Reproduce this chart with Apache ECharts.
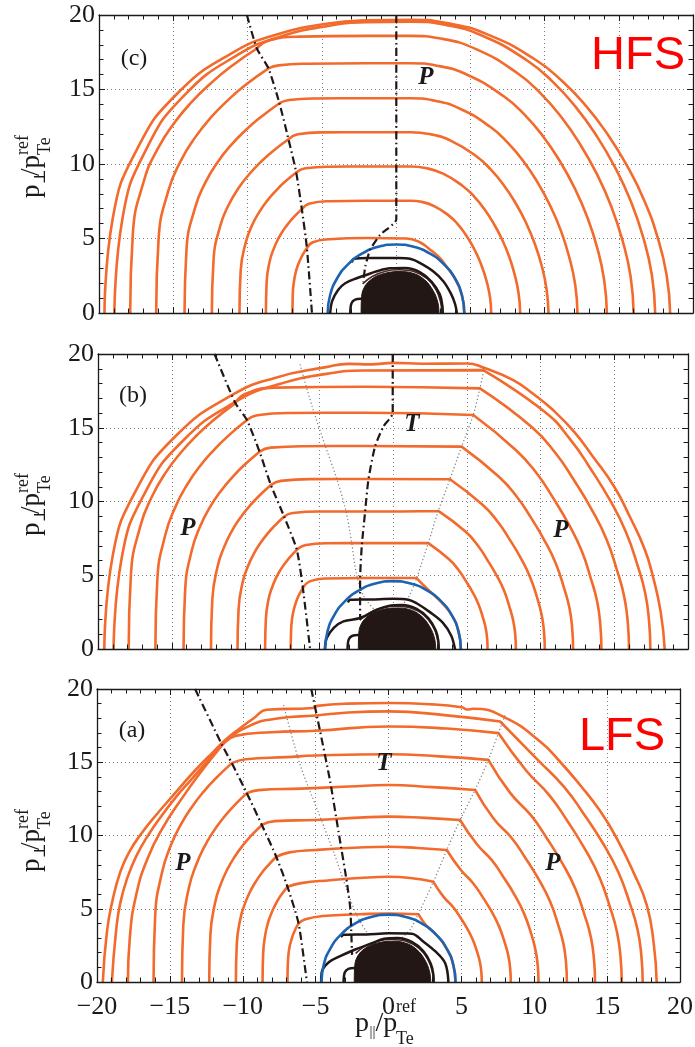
<!DOCTYPE html>
<html>
<head>
<meta charset="utf-8">
<title>Momentum-space contours, HFS / LFS</title>
<script src="https://cdn.jsdelivr.net/npm/echarts@6/dist/echarts.min.js"></script>
<style>
  html, body { margin: 0; padding: 0; background: #fff; }
  #chart { width: 695px; height: 1047px; }
</style>
</head>
<body>
<div id="chart"></div>
<script>
// ---------------------------------------------------------------------------
// Tick labels
const xTickLabels = ['\u221220', '\u221215', '\u221210', '\u22125', '0', '5', '10', '15', '20'];
const yTickLabels = ['0', '5', '10', '15', '20'];

// ---------------------------------------------------------------------------
// Panel (c), HFS: orange distribution contours, inner to outer.
// Each contour is a list of segments [p_par, p_perp]; segments meet at kinks.
const hfsContours = [
  [[[-6.97,0],[-6.95,1.31],[-6.86,2.18],[-6.76,2.7],[-6.63,3.14],[-6.49,3.49],[-6.35,3.79],[-6.2,4.05],[-6.0,4.36]],
   [[-6.0,4.36],[-5.6,4.75],[-4.5,4.95],[-2,5.03],[0.7,5.0],[1.6,4.75],[2.3,4.25],[2.9,3.75],[3.45,3.05],[3.98,2.3],[4.44,1.19],[4.6,0]]],
  [[[-8.76,0],[-8.71,2.09],[-8.5,3.49],[-8.23,4.32],[-7.91,5.02],[-7.57,5.58],[-7.21,6.06],[-6.84,6.48],[-6.34,6.97]],
   [[-6.34,6.97],[-5.8,7.35],[-4.5,7.5],[-2,7.53],[1.0,7.53],[1.72,7.46],[2.6,7.16],[3.58,6.52],[4.15,5.97],[4.65,5.32],[5.11,4.58],[5.52,3.77],[5.87,2.88],[6.15,1.95],[6.34,0.98],[6.41,0]]],
  [[[-10.54,0],[-10.46,2.83],[-10.12,4.72],[-9.71,5.85],[-9.2,6.79],[-8.67,7.54],[-8.09,8.2],[-7.52,8.77],[-6.72,9.43]],
   [[-6.72,9.43],[-6.1,9.72],[-4.5,9.82],[-2,9.83],[1.0,9.83],[1.98,9.73],[3.17,9.35],[4.51,8.51],[5.28,7.8],[5.97,6.95],[6.59,5.98],[7.15,4.92],[7.63,3.76],[8.0,2.54],[8.26,1.28],[8.36,0]]],
  [[[-12.4,0],[-12.29,3.5],[-11.84,5.83],[-11.28,7.23],[-10.59,8.4],[-9.87,9.33],[-9.1,10.14],[-8.32,10.84],[-7.24,11.66]],
   [[-7.24,11.66],[-6.6,12.0],[-5,12.12],[-2,12.13],[1.0,12.13],[2.24,12.01],[3.74,11.54],[5.43,10.5],[6.39,9.62],[7.26,8.58],[8.05,7.38],[8.75,6.07],[9.35,4.64],[9.82,3.14],[10.14,1.58],[10.27,0]]],
  [[[-14.24,0],[-14.11,4.22],[-13.54,7.04],[-12.85,8.73],[-12.0,10.14],[-11.11,11.26],[-10.15,12.25],[-9.18,13.09],[-7.85,14.08]],
   [[-7.85,14.08],[-7.2,14.3],[-5.5,14.4],[-2,14.41],[1.0,14.41],[2.5,14.27],[4.31,13.71],[6.36,12.48],[7.52,11.43],[8.58,10.19],[9.53,8.77],[10.38,7.21],[11.11,5.51],[11.67,3.73],[12.07,1.88],[12.22,0]]],
  [[[-16.15,0],[-15.99,4.93],[-15.33,8.21],[-14.51,10.18],[-13.5,11.82],[-12.45,13.14],[-11.31,14.29],[-10.18,15.27],[-8.59,16.42]],
   [[-8.59,16.42],[-7.9,16.62],[-6,16.73],[-2,16.76],[1.0,16.76],[2.76,16.6],[4.9,15.94],[7.3,14.51],[8.67,13.3],[9.91,11.85],[11.03,10.2],[12.03,8.38],[12.89,6.41],[13.56,4.34],[14.02,2.19],[14.2,0]]],
  [[[-17.9,0],[-17.72,5.33],[-16.97,8.88],[-16.05,11.01],[-14.91,12.78],[-13.72,14.2],[-12.44,15.44],[-11.16,16.51],[-9.37,17.75]],
   [[-9.37,17.75],[-8.5,18.3],[-6.5,18.55],[-2,18.6],[1.0,18.6],[3.0,18.42],[5.43,17.69],[8.16,16.11],[9.72,14.76],[11.13,13.15],[12.4,11.32],[13.54,9.3],[14.51,7.12],[15.27,4.81],[15.8,2.43],[16.0,0]]],
  [[[-18.96,0],[-18.42,6.34],[-16.82,10.98],[-14.21,14.65],[-10.64,17.34],[-7.76,18.56],[-4.41,19.3],[-2,19.52],[1.0,19.55],[3.19,19.36],[5.85,18.59],[8.85,16.93],[10.56,15.51],[12.11,13.82],[13.5,11.9],[14.75,9.78],[15.82,7.48],[16.65,5.06],[17.23,2.55],[17.45,0]]],
  [[[-19.63,0],[-19.07,6.38],[-17.41,11.05],[-14.71,14.75],[-11.02,17.46],[-8.03,18.69],[-4.56,19.43],[-2,19.64],[1.0,19.68],[3.33,19.47],[6.15,18.7],[9.34,17.03],[11.15,15.6],[12.79,13.9],[14.27,11.97],[15.59,9.83],[16.73,7.52],[17.61,5.09],[18.22,2.57],[18.46,0]]]
];
const hfsDashOuter = [[-10.04,20],[-9.37,17.75],[-8.59,16.42],[-7.85,14.08],[-7.24,11.66],[-6.72,9.43],[-6.34,6.97],[-6.0,4.36],[-5.66,0]];
const hfsDashInner = [[0.02,20],[0.02,6.3],[-1.07,5.24],[-1.74,4.24],[-2.07,3.12],[-2.2,2.1]];
const hfsCap   = [[-2.95,3.45],[-2.86,3.62],[-1.85,3.69],[0.17,3.69],[1.0,3.62],[1.63,3.35],[2.5,2.8],[3.2,2.12],[3.7,1.3],[3.98,0.6],[4.1,0]];
const hfsLower = [[-4.43,0],[-4.3,0.8],[-3.9,1.55],[-3.42,2.0],[-2.6,2.35],[-1.96,2.57],[-1.29,2.8],[-0.4,3.0],[0.6,3.02],[1.6,2.75],[2.4,2.1],[2.95,1.25],[3.12,0.5],[3.15,0]];

// ---------------------------------------------------------------------------
// Panel (b)
const midContours = [
  [[[-6.93,0],[-6.91,1.24],[-6.84,2.07],[-6.75,2.56],[-6.64,2.97],[-6.53,3.3],[-6.41,3.59],[-6.28,3.84],[-6.11,4.13]],
   [[-6.11,4.13],[-5.6,4.6],[-4.5,4.78],[-2,4.81],[1.6,4.81]],
   [[1.6,4.81],[2.4,4.0],[3.2,3.25],[3.98,2.3],[4.44,1.19],[4.6,0]]],
  [[[-8.67,0],[-8.62,2.02],[-8.44,3.36],[-8.2,4.17],[-7.92,4.84],[-7.62,5.38],[-7.29,5.85],[-6.97,6.25],[-6.52,6.72]],
   [[-6.52,6.72],[-5.9,7.05],[-4.5,7.17],[-2,7.18],[2.39,7.18]],
   [[2.39,7.18],[3.78,6.1],[4.42,5.39],[4.9,4.67],[5.42,3.81],[5.8,3.02],[6.09,2.15],[6.28,1.44],[6.38,0.72],[6.41,0]]],
  [[[-10.54,0],[-10.47,2.69],[-10.2,4.49],[-9.85,5.57],[-9.43,6.47],[-8.99,7.18],[-8.52,7.81],[-8.03,8.35],[-7.38,8.98]],
   [[-7.38,8.98],[-6.8,9.22],[-5,9.32],[-2,9.32],[3.07,9.36]],
   [[3.07,9.36],[4.91,7.96],[5.75,7.02],[6.37,6.08],[7.04,4.96],[7.54,3.93],[7.91,2.81],[8.16,1.87],[8.29,0.94],[8.33,0]]],
  [[[-12.34,0],[-12.25,3.34],[-11.9,5.56],[-11.46,6.89],[-10.92,8.01],[-10.35,8.9],[-9.74,9.67],[-9.12,10.34],[-8.28,11.12]],
   [[-8.28,11.12],[-7.6,11.4],[-5.5,11.52],[-2,11.53],[3.86,11.51]],
   [[3.86,11.51],[6.07,9.78],[7.1,8.63],[7.87,7.48],[8.7,6.1],[9.31,4.83],[9.78,3.45],[10.08,2.3],[10.24,1.15],[10.29,0]]],
  [[[-14.2,0],[-14.09,4.01],[-13.64,6.69],[-13.08,8.3],[-12.4,9.63],[-11.68,10.7],[-10.9,11.64],[-10.12,12.44],[-9.05,13.38]],
   [[-9.05,13.38],[-8.3,13.65],[-6,13.75],[-2,13.76],[4.65,13.72]],
   [[4.65,13.72],[7.2,11.66],[8.42,10.29],[9.34,8.92],[10.32,7.27],[11.05,5.76],[11.6,4.12],[11.97,2.74],[12.15,1.37],[12.21,0]]],
  [[[-16.11,0],[-15.98,4.66],[-15.43,7.76],[-14.76,9.62],[-13.94,11.17],[-13.07,12.42],[-12.13,13.5],[-11.19,14.43],[-9.9,15.52]],
   [[-9.9,15.52],[-9.2,15.85],[-7,16.0],[-2,16.02],[5.44,15.86]],
   [[5.44,15.86],[8.34,13.48],[9.75,11.9],[10.81,10.31],[11.94,8.41],[12.79,6.66],[13.42,4.76],[13.85,3.17],[14.06,1.59],[14.13,0]]],
  [[[-17.92,0],[-17.77,5.0],[-17.13,8.33],[-16.35,10.32],[-15.39,11.99],[-14.38,13.32],[-13.3,14.49],[-12.22,15.48],[-10.7,16.65]],
   [[-10.7,16.65],[-10.0,17.3],[-8,17.72],[-2,17.78],[5.89,17.67]],
   [[5.89,17.67],[9.44,15.02],[11.04,13.25],[12.24,11.49],[13.52,9.37],[14.48,7.42],[15.2,5.3],[15.68,3.53],[15.92,1.77],[16.0,0]]],
  [[[-18.94,0],[-18.4,6.13],[-16.8,10.62],[-14.19,14.17],[-10.63,16.78],[-7.75,17.95],[-4.4,18.67],[-2,18.88],[6.11,18.91]],
   [[6.11,18.91],[10.3,16.07],[12.04,14.18],[13.35,12.29],[14.75,10.02],[15.79,7.94],[16.58,5.67],[17.1,3.78],[17.36,1.89],[17.45,0]]],
  [[[-19.57,0],[-19.01,6.28],[-17.36,10.87],[-14.66,14.51],[-10.99,17.17],[-8.01,18.38],[-4.55,19.11],[-3,19.33],[-1.5,19.3],[0,19.4],[2,19.34],[5.0,19.36],[6.2,19.05],[8.15,18.23],[9.5,17.3],[10.85,16.2],[12.3,14.7],[13.56,13.04],[15.0,11.0],[16.05,8.98],[17.05,6.8],[17.62,4.92],[18.15,2.5],[18.42,0]]]
];
const midDashOuter = [[-12.1,20],[-10.7,16.7],[-9.9,15.52],[-9.05,13.38],[-8.28,11.12],[-7.38,8.98],[-6.52,6.72],[-6.11,4.13],[-5.62,0]];
const midDashInner = [[-0.02,20],[-0.02,16.0],[-0.66,15.07],[-1.22,13.72],[-1.67,11.46],[-1.9,9.21],[-2.12,6.95],[-2.23,4.69],[-2.23,1.98]];
const midDotLeft   = [[-6.3,19.3],[-5.5,16.5],[-4.6,13.8],[-3.8,11.5],[-3.2,9.4],[-2.8,7.2],[-2.5,5.2],[-2.0,3.6],[-1.3,2.7]];
const midDotRight  = [[6.2,19.1],[5.89,17.67],[5.44,15.86],[4.65,13.72],[3.86,11.51],[3.07,9.36],[2.39,7.18],[1.6,4.81],[1.1,3.6],[0.6,2.95]];
const midCap   = [[-3.03,3.22],[-2.9,3.34],[-1.5,3.36],[0,3.4],[1.04,3.34],[1.6,3.1],[2.5,2.5],[3.4,1.76],[3.95,0.9],[4.2,0]];
const midLower = [[-4.62,0],[-4.49,0.74],[-4.0,1.45],[-3.36,1.87],[-2.23,2.1],[-1.1,2.66],[-0.3,2.92],[0.6,2.98],[1.6,2.72],[2.4,2.08],[2.9,1.25],[3.08,0.5],[3.1,0]];

// ---------------------------------------------------------------------------
// Panel (a), LFS
const lfsContours = [
  [[[-6.93,0],[-6.91,1.2],[-6.85,2.0],[-6.77,2.48],[-6.66,2.88],[-6.56,3.2],[-6.44,3.48],[-6.33,3.72],[-6.17,4.0]],
   [[-6.17,4.0],[-5.7,4.28],[-4.5,4.5],[-2,4.62],[0,4.68],[2.06,4.62]],
   [[2.06,4.62],[2.6,3.85],[3.25,3.25],[3.98,2.3],[4.44,1.19],[4.6,0]]],
  [[[-8.64,0],[-8.6,1.95],[-8.45,3.25],[-8.27,4.03],[-8.04,4.68],[-7.8,5.2],[-7.55,5.66],[-7.28,6.05],[-6.93,6.5]],
   [[-6.93,6.5],[-6,6.75],[-4,6.95],[-2,7.1],[0,7.18],[1.5,7.1],[3.08,6.84]],
   [[3.08,6.84],[3.78,5.81],[4.42,5.13],[4.9,4.45],[5.41,3.63],[5.79,2.87],[6.08,2.05],[6.27,1.37],[6.37,0.68],[6.4,0]]],
  [[[-10.47,0],[-10.41,2.57],[-10.17,4.28],[-9.87,5.3],[-9.5,6.16],[-9.11,6.84],[-8.7,7.44],[-8.27,7.95],[-7.7,8.55]],
   [[-7.7,8.55],[-6.8,8.85],[-5,9.01],[-2,9.18],[0,9.23],[2,9.15],[4.0,9.01]],
   [[4.0,9.01],[4.95,7.66],[5.79,6.76],[6.42,5.86],[7.09,4.78],[7.59,3.78],[7.97,2.7],[8.22,1.8],[8.35,0.9],[8.39,0]]],
  [[[-12.3,0],[-12.22,3.22],[-11.91,5.36],[-11.52,6.65],[-11.04,7.72],[-10.53,8.58],[-9.99,9.33],[-9.44,9.97],[-8.69,10.72]],
   [[-8.69,10.72],[-7.8,10.98],[-5,11.06],[-2,11.22],[0,11.29],[2.5,11.2],[4.91,11.06]],
   [[4.91,11.06],[6.07,9.4],[7.1,8.3],[7.87,7.19],[8.7,5.86],[9.31,4.65],[9.78,3.32],[10.08,2.21],[10.24,1.11],[10.29,0]]],
  [[[-14.17,0],[-14.08,3.87],[-13.69,6.45],[-13.2,7.99],[-12.61,9.28],[-11.99,10.31],[-11.32,11.21],[-10.64,11.99],[-9.72,12.89]],
   [[-9.72,12.89],[-8.9,13.1],[-6,13.2],[-2.75,13.34],[0,13.45],[3,13.3],[5.94,13.11]],
   [[5.94,13.11],[7.22,11.14],[8.45,9.83],[9.36,8.52],[10.34,6.95],[11.08,5.51],[11.63,3.93],[12.0,2.62],[12.18,1.31],[12.24,0]]],
  [[[-16.12,0],[-16.01,4.48],[-15.54,7.47],[-14.96,9.26],[-14.24,10.76],[-13.49,11.95],[-12.68,13.0],[-11.86,13.89],[-10.75,14.94]],
   [[-10.75,14.94],[-9.8,15.2],[-7,15.35],[-5,15.46],[0,15.55],[3.5,15.4],[6.85,15.16]],
   [[6.85,15.16],[8.36,12.89],[9.78,11.37],[10.84,9.85],[11.97,8.03],[12.82,6.37],[13.46,4.55],[13.89,3.03],[14.1,1.52],[14.17,0]]],
  [[[-17.88,0],[-17.75,3],[-17.3,6],[-16.5,8.5],[-15.5,10.5],[-14.2,12.5],[-12.9,14.3],[-11.43,16.15]],
   [[-11.43,16.15],[-10.5,16.8],[-8,17.05],[-5,17.15],[0,17.44],[4,17.3],[7.54,16.99]],
   [[7.54,16.99],[9.44,14.44],[11.04,12.74],[12.24,11.04],[13.52,9.0],[14.48,7.14],[15.2,5.1],[15.68,3.4],[15.92,1.7],[16.0,0]]],
  [[[-18.98,0],[-18.7,3.4],[-18.4,5.4],[-17.85,7.3],[-17.25,8.7],[-16.5,10.0],[-15.6,11.3],[-14.6,12.6],[-13.55,13.8],[-12.5,15.0],[-11.43,16.2],[-9.5,17.5],[-7.5,18.0],[-5,18.19],[-2.75,18.4],[0,18.47],[4,18.2],[7.66,17.78]],
   [[7.66,17.78],[10.29,15.11],[12.03,13.34],[13.34,11.56],[14.74,9.42],[15.78,7.47],[16.57,5.33],[17.09,3.56],[17.35,1.78],[17.44,0]]],
  [[[-19.6,0],[-19.32,3.42],[-18.95,5.5],[-18.4,7.52],[-17.8,8.85],[-17.03,10.03],[-15.9,11.45],[-14.75,12.77],[-13.4,14.3],[-12.0,15.73],[-11.1,16.6],[-10.17,17.33],[-9.25,18.0],[-8.34,18.58],[-5.2,18.7],[-4.9,18.85],[-2.75,19.0],[0,19.04],[3,18.95],[5.03,18.75],[5.4,18.6],[5.8,18.65],[8.0,18.05],[10.4,16.42],[11.8,15.0],[13.14,13.45],[14.5,11.7],[15.66,9.81],[16.8,7.5],[17.72,5.25],[18.2,2.6],[18.4,0]]]
];
const lfsDashOuter = [[-13.27,20],[-11.43,16.2],[-10.75,14.94],[-9.72,12.89],[-8.69,10.72],[-7.7,8.55],[-6.93,6.5],[-6.17,4.0],[-5.6,0]];
const lfsDashInner = [[-5.3,20],[-4.69,17.1],[-4.0,13.68],[-3.43,10.26],[-2.86,6.84],[-2.62,5.0],[-2.55,3.3],[-2.5,1.85]];
const lfsDotLeft   = [[-7.2,18.9],[-6.06,14.82],[-4.9,11.8],[-3.77,8.89],[-2.9,6.4],[-2.2,4.6],[-1.5,3.4]];
const lfsDotRight  = [[8.0,18.2],[7.54,16.99],[6.85,15.16],[5.94,13.11],[4.91,11.06],[4.0,9.01],[3.08,6.84],[2.06,4.68],[1.5,3.6],[0.9,3.0]];
const lfsCap   = [[-3.2,3.12],[-3.1,3.22],[-1.5,3.25],[0,3.32],[1.6,3.3],[2.4,2.75],[3.2,2.1],[3.89,1.28],[4.11,0]];
const lfsLower = [[-4.62,0],[-4.57,0.71],[-4.1,1.35],[-3.43,1.71],[-2.29,2.22],[-1.14,2.65],[-0.3,2.95],[0.6,3.0],[1.6,2.74],[2.4,2.1],[2.9,1.25],[3.08,0.5],[3.1,0]];

// ---------------------------------------------------------------------------
// Shared by all panels: blue boundary circle and the dense core
const boundaryCircle = [[-4.6,0],[-4.44,1.19],[-3.98,2.3],[-3.25,3.25],[-2.3,3.98],[-1.19,4.44],[0,4.6],[1.19,4.44],[2.3,3.98],[3.25,3.25],[3.98,2.3],[4.44,1.19],[4.6,0]];
const coreDisk = [[-2.35,0],[-2.33,0.9],[-2.15,1.7],[-1.6,2.3],[-0.8,2.65],[0.2,2.78],[1.1,2.68],[1.9,2.25],[2.5,1.5],[2.82,0.7],[2.9,0]];
const coreRing = [[-2.25,1.95],[-1.6,2.45],[-0.7,2.8],[0.2,2.9],[1.2,2.78],[2.1,2.3],[2.7,1.55],[3.0,0.75],[3.08,0]];
const coreHook = [[-3.08,0],[-3.0,0.65],[-2.75,0.9],[-2.35,0.95]];

// ---------------------------------------------------------------------------
const ORANGE = '#F26A2C';
const BLUE = '#1C63B2';
const INK = '#221714';
const SERIF = '"Liberation Serif", "Times New Roman", "DejaVu Serif", serif';

const panels = [
  { grid: { left: 99, top: 15, width: 594, height: 298 },
    contours: hfsContours, dashes: [hfsDashOuter, hfsDashInner], dots: [],
    cap: hfsCap, lower: hfsLower, xLabels: false },
  { grid: { left: 98, top: 354, width: 590, height: 295 },
    contours: midContours, dashes: [midDashOuter, midDashInner], dots: [midDotLeft, midDotRight],
    cap: midCap, lower: midLower, xLabels: false },
  { grid: { left: 97, top: 689, width: 583, height: 293 },
    contours: lfsContours, dashes: [lfsDashOuter, lfsDashInner], dots: [lfsDotLeft, lfsDotRight],
    cap: lfsCap, lower: lfsLower, xLabels: true }
];

function joinSegments(segs) {
  const out = [];
  segs.forEach((s, i) => { if (i) out.push(null); s.forEach(p => out.push(p)); });
  return out;
}

const frameLine = { show: true, onZero: false, lineStyle: { color: '#1a1a1a', width: 1.3 } };
const tickStyle = { show: true, inside: true, length: 6, lineStyle: { color: '#1a1a1a', width: 1 } };
const minorStyle = { show: true, splitNumber: 5, length: 4.5, lineStyle: { color: '#1a1a1a', width: 1 } };
const gridDots = { show: true, lineStyle: { type: [1, 3], color: '#7d7d7d', width: 1 } };

const grids = [], xAxes = [], yAxes = [], series = [];

panels.forEach((p, gi) => {
  grids.push(Object.assign({ containLabel: false, outerBoundsMode: 'none' }, p.grid));
  // bottom axis: frame, ticks, labels (drawn above the curves)
  xAxes.push({
    type: 'value', gridIndex: gi, position: 'bottom', min: -20, max: 20, interval: 5, z: 10,
    axisLine: frameLine, axisTick: tickStyle, minorTick: minorStyle,
    splitLine: { show: false },
    axisLabel: {
      show: p.xLabels, margin: 12, color: '#1a1a1a', fontFamily: SERIF, fontSize: 26,
      formatter: v => xTickLabels[Math.round((v + 20) / 5)]
    }
  });
  // top axis: frame, ticks and the dotted grid
  xAxes.push({
    type: 'value', gridIndex: gi, position: 'top', min: -20, max: 20, interval: 5, z: 0,
    axisLine: frameLine, axisTick: tickStyle, minorTick: minorStyle,
    splitLine: gridDots, axisLabel: { show: false }
  });
  yAxes.push({
    type: 'value', gridIndex: gi, position: 'left', min: 0, max: 20, interval: 5, z: 10,
    axisLine: frameLine, axisTick: tickStyle, minorTick: minorStyle,
    splitLine: { show: false },
    axisLabel: {
      show: true, margin: 4, color: '#1a1a1a', fontFamily: SERIF, fontSize: 26,
      formatter: v => yTickLabels[Math.round(v / 5)]
    }
  });
  yAxes.push({
    type: 'value', gridIndex: gi, position: 'right', min: 0, max: 20, interval: 5, z: 0,
    axisLine: frameLine, axisTick: tickStyle, minorTick: minorStyle,
    splitLine: gridDots, axisLabel: { show: false }
  });

  const base = {
    type: 'line', xAxisIndex: 2 * gi, yAxisIndex: 2 * gi, showSymbol: false, symbol: 'none',
    silent: true, animation: false, connectNulls: false, clip: true
  };

  p.contours.forEach(c => {
    series.push(Object.assign({}, base, {
      data: joinSegments(c), smooth: 0.5, z: 2,
      lineStyle: { color: ORANGE, width: 2.6, cap: 'round', join: 'round' }
    }));
  });
  p.dots.forEach(d => {
    series.push(Object.assign({}, base, {
      data: d, smooth: 0.3, z: 3,
      lineStyle: { color: '#7a7a7a', width: 1.2, type: [1.2, 2.4] }
    }));
  });
  // dense core: filled disk with its rim
  series.push(Object.assign({}, base, {
    data: coreDisk, smooth: 0.4, z: 3,
    lineStyle: { color: INK, width: 1 }, areaStyle: { color: INK, opacity: 1, origin: 'auto' }
  }));
  series.push(Object.assign({}, base, {
    data: coreRing, smooth: 0.4, z: 3, lineStyle: { color: '#4a2a22', width: 1.6 }
  }));
  [coreHook, p.lower, p.cap].forEach(d => {
    series.push(Object.assign({}, base, {
      data: d, smooth: 0.35, z: 4, lineStyle: { color: INK, width: 2.5, cap: 'round', join: 'round' }
    }));
  });
  series.push(Object.assign({}, base, {
    data: boundaryCircle, smooth: 0.5, z: 5, lineStyle: { color: BLUE, width: 2.6 }
  }));
  p.dashes.forEach(d => {
    series.push(Object.assign({}, base, {
      data: d, smooth: 0.2, z: 6,
      lineStyle: { color: INK, width: 2.2, type: [8, 3.5, 1.6, 3.5] }
    }));
  });
});

// ---------------------------------------------------------------------------
// Text annotations
function plainText(text, x, y, font, fill) {
  return { type: 'text', x, y, z: 20, silent: true,
    style: { text, font, fill: fill || '#1a1a1a', align: 'center', verticalAlign: 'middle' } };
}
// builds "p_sub / p_Te^ref" from pieces [text, dx, baselineOffset, size]
function mathLabel(x, y, rotation, pieces) {
  return {
    type: 'group', x, y, rotation, z: 20, silent: true,
    children: pieces.map(([t, dx, by, size]) => ({
      type: 'text', x: dx, y: by - 0.31 * size, silent: true,
      style: { text: t, font: size + 'px ' + SERIF, fill: '#1a1a1a', align: 'left', verticalAlign: 'middle' }
    }))
  };
}
const yNamePieces = [['p', 0, 0, 27], ['\u22A5', 13.5, 6, 16], ['/p', 22, 0, 27], ['ref', 43, -11, 18], ['Te', 43, 11, 18]];
const xNamePieces = [['p', 0, 0, 28], ['||', 14.5, 5, 15], ['/p', 20.5, 0, 28], ['ref', 41, -19, 18], ['Te', 41, 13, 18]];

const labelFont = '24px ' + SERIF;
const bigP = 'italic bold 25px ' + SERIF;
const sideFont = '47px "Liberation Sans", Arial, sans-serif';

const graphics = [
  plainText('(c)', 134, 59, labelFont),
  plainText('(b)', 133, 396, labelFont),
  plainText('(a)', 132, 731, labelFont),
  plainText('HFS', 638, 56, sideFont, '#FF0000'),
  plainText('LFS', 622, 737, sideFont, '#FF0000'),
  plainText('P', 426, 78, bigP),
  plainText('P', 188, 529, bigP),
  plainText('T', 412, 425, bigP),
  plainText('P', 561, 531, bigP),
  plainText('P', 183, 864, bigP),
  plainText('T', 384, 764, bigP),
  plainText('P', 553, 864, bigP),
  mathLabel(40, 198, Math.PI / 2, yNamePieces),
  mathLabel(40, 536, Math.PI / 2, yNamePieces),
  mathLabel(40, 872, Math.PI / 2, yNamePieces),
  mathLabel(355, 1032, 0, xNamePieces)
];

const chart = echarts.init(document.getElementById('chart'), null, { renderer: 'canvas' });
chart.setOption({
  animation: false,
  backgroundColor: '#ffffff',
  grid: grids,
  xAxis: xAxes,
  yAxis: yAxes,
  series: series,
  graphic: graphics
});
</script>
</body>
</html>
